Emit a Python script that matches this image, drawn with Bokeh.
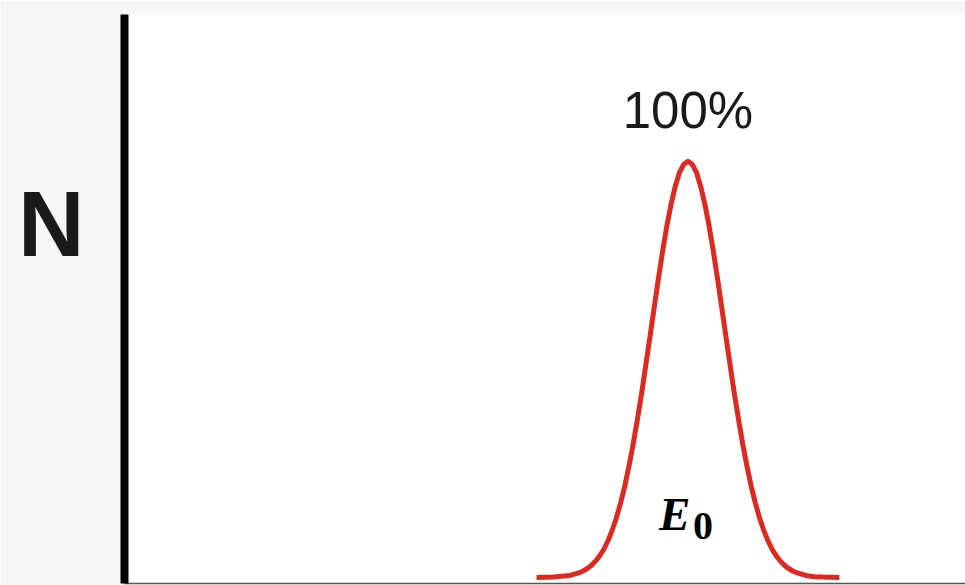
from bokeh.plotting import figure
from bokeh.models import Range1d, FixedTicker, Label
from bokeh.embed import file_html
from bokeh.resources import INLINE

# data
energy = [49, 51, 53, 54, 54.5, 55, 55.5, 56, 56.5, 57, 57.5, 58, 58.5, 59, 59.5, 60, 60.5,
          61, 61.5, 62, 62.5, 63, 63.5, 64, 64.5, 65, 65.5, 66, 66.5, 67,
          67.5, 68, 68.5, 69, 69.5, 70, 70.5, 71, 71.5, 72, 72.5, 73, 73.5, 74, 74.5,
          75, 75.5, 76, 76.5, 77, 77.5, 78, 78.5, 79, 79.5, 80, 81, 82, 83, 85]
counts = [0, 0.1, 0.5, 1.1, 1.5, 2.1, 2.9, 3.9, 5.2, 6.8, 8.9, 11.4, 14.4, 18.0, 22.1, 26.9, 32.2,
          38.1, 44.4, 51.2, 58.1, 65.1, 72.0, 78.6, 84.6, 89.8, 94.1, 97.4, 99.3, 100,
          99.3, 97.4, 94.1, 89.8, 84.6, 78.6, 72.0, 65.1, 58.1, 51.2, 44.4, 38.1, 32.2, 26.9, 22.1,
          18.0, 14.4, 11.4, 8.9, 6.8, 5.2, 3.9, 2.9, 2.1, 1.5, 1.1, 0.5, 0.2, 0.1, 0]
peak_energy = 67
peak_value = 100
peak_label = "100%"
y_tick = [85]
y_tick_label = ["N"]

p = figure(width=965, height=585, output_backend="svg", toolbar_location=None,
           x_range=Range1d(0, 100), y_range=Range1d(-1.44, 135.3),
           min_border_left=124, min_border_right=0, min_border_top=14, min_border_bottom=2)
p.background_fill_color = "white"
p.border_fill_color = "#f6f6f6"
p.outline_line_color = None
p.xgrid.grid_line_color = None
p.ygrid.grid_line_color = None

# x axis: thin gray line, nothing else
p.xaxis.axis_line_color = "#555555"
p.xaxis.axis_line_width = 1.5
p.xaxis.major_tick_line_color = None
p.xaxis.minor_tick_line_color = None
p.xaxis.major_tick_out = 0
p.xaxis.major_tick_in = 0
p.xaxis.minor_tick_out = 0
p.xaxis.major_label_standoff = 0
p.xaxis.major_label_text_font_size = "0px"

# y axis: thick black line, single "N" label
p.yaxis.axis_line_color = "black"
p.yaxis.axis_line_width = 8
p.yaxis.ticker = FixedTicker(ticks=y_tick)
p.yaxis.major_label_overrides = {y_tick[0]: y_tick_label[0]}
p.yaxis.major_tick_line_color = None
p.yaxis.minor_tick_line_color = None
p.yaxis.major_tick_out = 0
p.yaxis.major_label_standoff = 40
p.yaxis.major_label_text_font = "Liberation Sans"
p.yaxis.major_label_text_font_style = "bold"
p.yaxis.major_label_text_font_size = "92px"
p.yaxis.major_label_text_color = "#1a1a1a"

p.line(energy, counts, line_color="#dc2a20", line_width=5, line_join="round")

p.add_layout(Label(x=peak_energy, y=peak_value, y_offset=51, text=peak_label,
                   text_align="center", text_baseline="alphabetic",
                   text_font="Liberation Sans", text_font_size="51px", text_color="#1a1a1a"))
p.add_layout(Label(x=peak_energy, y=0, x_offset=-29, y_offset=64, text="E",
                   text_align="left", text_baseline="alphabetic",
                   text_font="Liberation Serif", text_font_style="bold italic",
                   text_font_size="47px", text_color="black"))
p.add_layout(Label(x=peak_energy, y=0, x_offset=5, y_offset=52, text="0",
                   text_align="left", text_baseline="alphabetic",
                   text_font="Liberation Serif", text_font_style="bold",
                   text_font_size="40px", text_color="black"))

html = file_html(p, INLINE)
html = html.replace("<body>", '<body style="background:#f6f6f6">', 1)
open("out.html", "w").write(html)
